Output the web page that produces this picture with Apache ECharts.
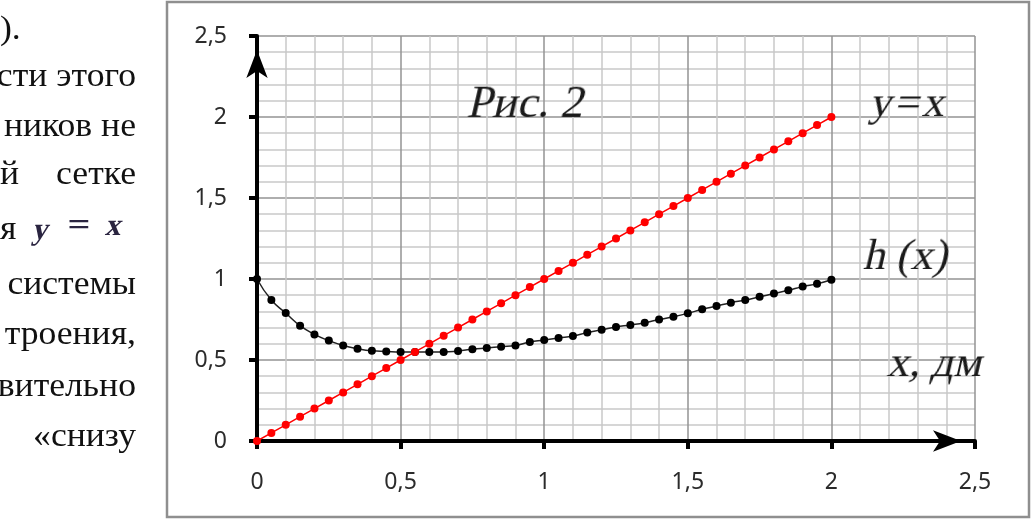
<!DOCTYPE html>
<html>
<head>
<meta charset="utf-8">
<script src="https://cdn.jsdelivr.net/npm/echarts@6/dist/echarts.min.js"></script>
<style>
  html, body { margin: 0; padding: 0; background: #fff; }
  #wrap { position: relative; width: 1032px; height: 519px; overflow: hidden; }
  #chart { width: 1032px; height: 519px; }
  .cap {
    position: absolute; white-space: nowrap; line-height: 1;
    font-family: "Liberation Serif", serif; color: #1a1a1a;
    transform: translate(-50%, -50%) skewX(-13deg);
  }
</style>
</head>
<body>
<div id="wrap">
  <div id="chart"></div>
  <div class="cap" style="left:528px; top:102px; font-size:46px;">Рис. 2</div>
  <div class="cap" style="left:911px; top:102px; font-size:44px; letter-spacing:3px;">y=x</div>
  <div class="cap" style="left:908px; top:255px; font-size:44px;">h (x)</div>
  <div class="cap" style="left:937px; top:362px; font-size:44px;">x, дм</div>
  <div class="cap" style="left:42px; top:228px; font-size:31px; font-weight:bold; color:#2a2440;">y</div>
  <div class="cap" style="left:79px; top:224px; font-size:31px; font-weight:bold; color:#2a2440; transform:translate(-50%,-50%) scaleX(1.3);">=</div>
  <div class="cap" style="left:115px; top:224px; font-size:31px; font-weight:bold; color:#2a2440;">x</div>
</div>
<script>
// x, dm (step 0.05)
const xValues = [0, 0.05, 0.1, 0.15, 0.2, 0.25, 0.3, 0.35, 0.4, 0.45, 0.5, 0.55, 0.6, 0.65, 0.7, 0.75, 0.8,
  0.85, 0.9, 0.95, 1, 1.05, 1.1, 1.15, 1.2, 1.25, 1.3, 1.35, 1.4, 1.45, 1.5, 1.55, 1.6, 1.65, 1.7, 1.75,
  1.8, 1.85, 1.9, 1.95, 2];
// y = x
const lineValues = [0, 0.05, 0.1, 0.15, 0.2, 0.25, 0.3, 0.35, 0.4, 0.45, 0.5, 0.55, 0.6, 0.65, 0.7, 0.75, 0.8,
  0.85, 0.9, 0.95, 1, 1.05, 1.1, 1.15, 1.2, 1.25, 1.3, 1.35, 1.4, 1.45, 1.5, 1.55, 1.6, 1.65, 1.7, 1.75,
  1.8, 1.85, 1.9, 1.95, 2];
// h(x)
const hValues = [1, 0.87, 0.79, 0.712, 0.658, 0.62, 0.59, 0.57, 0.557, 0.553, 0.55, 0.55, 0.55, 0.55, 0.556,
  0.566, 0.574, 0.582, 0.59, 0.611, 0.623, 0.636, 0.648, 0.669, 0.686, 0.704, 0.716, 0.73, 0.75, 0.767,
  0.788, 0.813, 0.833, 0.854, 0.87, 0.89, 0.91, 0.93, 0.953, 0.97, 0.995];
const tickValues = [0, 0.5, 1, 1.5, 2, 2.5];
const tickLabels = ['0', '0,5', '1', '1,5', '2', '2,5'];

function pairs(ys) {
  return xValues.map((x, i) => [x, ys[i]]);
}
function tickText(v) {
  const i = tickValues.findIndex((t) => Math.abs(t - v) < 1e-9);
  return i >= 0 ? tickLabels[i] : '';
}

const serif = 'Liberation Serif';

// text of the page around the figure
function pageText(text, x, y, align) {
  return {
    type: 'text', x: x, y: y, scaleX: 1.08, silent: true,
    style: {
      text: text, fontFamily: serif, fontSize: 33, fill: '#111',
      textAlign: align || 'right', textVerticalAlign: 'middle'
    }
  };
}

const axisCommon = {
  type: 'value',
  min: 0,
  max: 2.5,
  interval: 0.5,
  axisLine: {
    show: true,
    onZero: false,
    symbol: ['none', 'arrow'],
    symbolSize: [16, 28],
    symbolOffset: [0, -14],
    lineStyle: { color: '#000', width: 4 }
  },
  axisTick: { show: true, inside: false, length: 8, lineStyle: { color: '#000', width: 4 } },
  axisLabel: {
    margin: 30,
    color: '#2b2b2b',
    fontFamily: 'Noto Sans',
    fontSize: 23,
    formatter: tickText
  },
  splitLine: { show: true, lineStyle: { color: '#939393', width: 1.5 } },
  minorTick: { show: false, splitNumber: 5 },
  minorSplitLine: { show: true, lineStyle: { color: '#c9c9c9', width: 1.5 } }
};

const chart = echarts.init(document.getElementById('chart'));
chart.setOption({
  animation: false,
  grid: { left: 257, right: 57, top: 36, bottom: 78, containLabel: false, outerBoundsMode: 'none' },
  xAxis: Object.assign({}, axisCommon),
  yAxis: Object.assign({}, axisCommon),
  series: [
    {
      name: 'h (x)',
      type: 'line',
      data: pairs(hValues),
      smooth: true,
      symbol: 'circle',
      symbolSize: 8,
      itemStyle: { color: '#000' },
      lineStyle: { color: '#222', width: 1.5 },
      z: 3
    },
    {
      name: 'y=x',
      type: 'line',
      data: pairs(lineValues),
      symbol: 'circle',
      symbolSize: 8,
      itemStyle: { color: '#ff0000' },
      lineStyle: { color: '#ff0000', width: 1.5 },
      z: 4
    }
  ],
  graphic: [
    // frame of the figure
    {
      type: 'rect', silent: true, z: -10,
      shape: { x: 167, y: 2, width: 862, height: 515 },
      style: { fill: 'none', stroke: '#8f8f8f', lineWidth: 2.5 }
    },
    pageText(').', 0, 30, 'left'),
    pageText('сти этого', 136, 77),
    pageText('ников не', 136, 127),
    pageText('й', 0, 175, 'left'),
    pageText('сетке', 136, 175),
    pageText('я', 0, 230, 'left'),
    pageText('системы', 136, 285),
    pageText('троения,', 136, 335),
    pageText('вительно', 136, 387),
    pageText('«снизу', 136, 437)
  ]
});
</script>
</body>
</html>
